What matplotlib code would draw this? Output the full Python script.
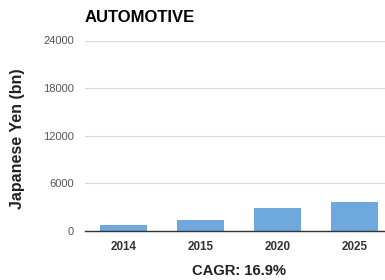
import matplotlib
matplotlib.use("Agg")
import matplotlib.pyplot as plt

categories = ["2014", "2015", "2020", "2025"]
values = [750, 1400, 2850, 3700]
yticks = [0, 6000, 12000, 18000, 24000]
title = "AUTOMOTIVE"
ylabel = "Japanese Yen (bn)"
xlabel = "CAGR: 16.9%"

plt.rcParams['font.family'] = ['Liberation Sans', 'DejaVu Sans']

fig = plt.figure(figsize=(3.85, 2.8), dpi=100)
W, H = 385, 280
ax = fig.add_axes([85 / W, 1 - 231 / H, 1 - 85 / W, (231 - 40.5) / H])

x = list(range(len(categories)))
ax.bar(x, values, width=0.61, color="#6fa8dc", zorder=2)
ax.set_xlim(-0.5, 3.396)
ax.set_ylim(0, 24000)
ax.set_yticks(yticks)
ax.set_yticklabels([str(t) for t in yticks], fontsize=8, color="#555555")
ax.set_xticks(x)
ax.set_xticklabels(categories, fontsize=8.4, fontweight="bold", color="#333333")
ax.tick_params(axis="both", length=0)
ax.tick_params(axis="y", pad=8)
ax.tick_params(axis="x", pad=7)
ax.grid(axis="y", color="#d9d9d9", linewidth=0.8, zorder=0)
for s in ["top", "right", "left"]:
    ax.spines[s].set_visible(False)
ax.spines["bottom"].set_color("#333333")
ax.spines["bottom"].set_linewidth(1.0)
ax.spines["bottom"].set_zorder(3)

fig.text(85 / W, 1 - 17 / H, title, fontsize=12, fontweight="bold", va="center", ha="left", color="#000000")
fig.text(18 / W, 1 - 139 / H, ylabel, fontsize=11.5, fontweight="bold", rotation=90, va="center", ha="center", color="#222222")
fig.text(239 / W, 1 - 271 / H, xlabel, fontsize=10.6, fontweight="bold", va="center", ha="center", color="#222222")

fig.savefig("out.png", dpi=100)
